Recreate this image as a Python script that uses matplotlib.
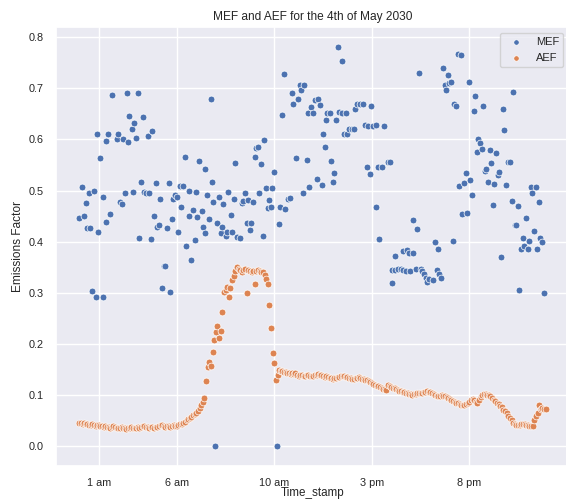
import matplotlib
matplotlib.use("Agg")
import matplotlib.pyplot as plt
import numpy as np
import seaborn as sns

# AEF: one reading every 5 minutes, 00:00 -> 23:55 (one row per hour)
aef_values = [
    0.045, 0.046, 0.044, 0.045, 0.043, 0.044, 0.042, 0.041, 0.043, 0.041, 0.040, 0.042,
    0.041, 0.039, 0.040, 0.038, 0.039, 0.037, 0.038, 0.036, 0.037, 0.039, 0.038, 0.036,
    0.035, 0.036, 0.037, 0.036, 0.035, 0.034, 0.036, 0.035, 0.037, 0.036, 0.035, 0.036,
    0.037, 0.036, 0.038, 0.040, 0.039, 0.038, 0.037, 0.036, 0.038, 0.037, 0.036, 0.037,
    0.038, 0.040, 0.042, 0.041, 0.039, 0.038, 0.040, 0.039, 0.038, 0.040, 0.041, 0.039,
    0.040, 0.042, 0.043, 0.044, 0.046, 0.047, 0.050, 0.053, 0.055, 0.057, 0.060, 0.062,
    0.065, 0.068, 0.075, 0.080, 0.087, 0.094, 0.127, 0.155, 0.165, 0.157, 0.185, 0.208,
    0.223, 0.234, 0.212, 0.225, 0.263, 0.301, 0.306, 0.312, 0.292, 0.310, 0.325, 0.333,
    0.343, 0.350, 0.346, 0.345, 0.340, 0.344, 0.347, 0.300, 0.345, 0.342, 0.340, 0.343,
    0.317, 0.342, 0.345, 0.343, 0.341, 0.340, 0.335, 0.326, 0.317, 0.276, 0.231, 0.183,
    0.162, 0.129, 0.140, 0.149, 0.147, 0.146, 0.144, 0.145, 0.143, 0.142, 0.141, 0.142,
    0.141, 0.142, 0.139, 0.138, 0.140, 0.139, 0.137, 0.138, 0.139, 0.140, 0.138, 0.137,
    0.137, 0.139, 0.140, 0.141, 0.139, 0.140, 0.138, 0.136, 0.137, 0.135, 0.134, 0.133,
    0.132, 0.133, 0.134, 0.135, 0.136, 0.137, 0.138, 0.137, 0.136, 0.135, 0.134, 0.133,
    0.132, 0.131, 0.133, 0.134, 0.135, 0.134, 0.132, 0.131, 0.130, 0.129, 0.128, 0.126,
    0.124, 0.122, 0.120, 0.118, 0.117, 0.115, 0.113, 0.112, 0.111, 0.110, 0.119, 0.117,
    0.115, 0.113, 0.114, 0.112, 0.110, 0.108, 0.107, 0.106, 0.105, 0.104, 0.103, 0.102,
    0.101, 0.100, 0.101, 0.102, 0.103, 0.104, 0.103, 0.104, 0.105, 0.106, 0.107, 0.106,
    0.105, 0.104, 0.102, 0.100, 0.098, 0.097, 0.098, 0.099, 0.098, 0.097, 0.096, 0.094,
    0.092, 0.091, 0.089, 0.087, 0.085, 0.084, 0.082, 0.080, 0.081, 0.080, 0.083, 0.085,
    0.087, 0.090, 0.092, 0.090, 0.087, 0.085, 0.090, 0.096, 0.100, 0.102, 0.101, 0.100,
    0.099, 0.097, 0.094, 0.091, 0.088, 0.085, 0.082, 0.079, 0.076, 0.071, 0.068, 0.064,
    0.059, 0.055, 0.050, 0.046, 0.044, 0.042, 0.041, 0.042, 0.043, 0.044, 0.043, 0.042,
    0.041, 0.040, 0.039, 0.040, 0.051, 0.058, 0.065, 0.080, 0.072, 0.074, 0.073, 0.072,
]
aef_hours = np.arange(len(aef_values)) / 12  # 5-minute steps

# MEF: readings taken off the scatter (hour of day, value)
mef_hours = [
    0.00, 0.14, 0.25, 0.35, 0.40, 0.52, 0.55, 0.67, 0.76, 0.83, 0.93, 0.98,
    1.07, 1.19, 1.24, 1.36, 1.39, 1.49, 1.58, 1.67, 1.92, 2.00, 2.09, 2.18,
    2.26, 2.33, 2.44, 2.49, 2.57, 2.69, 2.74, 2.81, 2.90, 3.00, 3.08, 3.15,
    3.26, 3.32, 3.43, 3.51, 3.58, 3.67, 3.72, 3.84, 3.94, 3.97, 4.09, 4.14,
    4.25, 4.35, 4.40, 4.50, 4.60, 4.65, 4.76, 4.79, 4.91, 5.03, 5.07, 5.17,
    5.24, 5.34, 5.43, 5.48, 5.60, 5.65, 5.75, 5.85, 5.92, 5.99, 6.06, 6.16,
    6.28, 6.33, 6.42, 6.45, 6.57, 6.67, 6.74, 6.83, 6.88, 6.98, 7.08, 7.15,
    7.26, 7.34, 7.39, 7.51, 7.58, 7.63,
    7.77, 7.84, 7.92, 7.97, 8.08, 8.23, 8.33, 8.38, 8.49, 8.59, 8.67, 8.76,
    8.79, 8.90, 9.02, 9.07, 9.18, 9.22, 9.32, 9.41, 9.48, 9.58, 9.67, 9.73,
    9.84, 9.89, 9.99, 10.14, 10.26, 10.30, 10.40, 10.52, 10.57, 10.72, 10.83, 10.93,
    10.98, 11.13, 11.24, 11.32, 11.39, 11.49, 11.54, 11.67, 11.75, 11.80, 11.90, 12.00,
    12.08, 12.18, 12.23, 12.33, 12.44, 12.49, 12.59, 12.64, 12.72, 12.86, 12.90, 13.00,
    13.07, 13.15, 13.26, 13.31, 13.46, 13.48, 13.55, 13.68, 13.72, 13.85, 13.97, 14.11,
    14.13, 14.26, 14.37, 14.54, 14.64, 14.74, 14.83, 14.91, 14.98, 15.07, 15.19, 15.22,
    15.34, 15.39,
    15.51, 15.63, 15.84, 15.94, 16.01, 16.06, 16.19, 16.20, 16.36, 16.49, 16.59, 16.62,
    16.74, 16.83, 16.90, 16.98, 17.10, 17.13, 17.26, 17.31, 17.41, 17.51, 17.58, 17.70,
    17.77, 17.82, 17.95, 18.13, 18.25, 18.33, 18.40, 18.47, 18.55, 18.64, 18.76, 18.81,
    18.91, 18.98, 19.07, 19.17, 19.22, 19.32, 19.41, 19.48, 19.58, 19.63, 19.73, 19.85,
    19.90, 19.97, 20.04, 20.16, 20.25, 20.30, 20.41, 20.45, 20.55, 20.67, 20.72, 20.83,
    20.88, 20.98, 21.07, 21.13, 21.24, 21.29, 21.39, 21.49, 21.54, 21.65, 21.75, 21.80,
    21.90, 21.99, 22.09, 22.18, 22.23, 22.33, 22.40, 22.49, 22.57, 22.64, 22.74, 22.83,
    22.90, 23.00, 23.07, 23.16, 23.22, 23.31, 23.43, 23.46, 23.58, 23.63, 23.73, 23.85,
]
mef_values = [
    0.446, 0.506, 0.451, 0.475, 0.426, 0.495, 0.427, 0.303, 0.500, 0.291, 0.611, 0.419,
    0.564, 0.487, 0.291, 0.597, 0.439, 0.611, 0.455, 0.687, 0.601, 0.611, 0.477, 0.473,
    0.601, 0.495, 0.690, 0.595, 0.646, 0.621, 0.498, 0.632, 0.603, 0.690, 0.408, 0.517,
    0.643, 0.498, 0.495, 0.607, 0.495, 0.406, 0.617, 0.451, 0.514, 0.428, 0.432, 0.483,
    0.309, 0.353, 0.353, 0.426, 0.514, 0.301, 0.444, 0.483, 0.491, 0.487, 0.419, 0.509,
    0.468, 0.509, 0.566, 0.392, 0.451, 0.500, 0.364, 0.461, 0.404, 0.498, 0.449, 0.558,
    0.459, 0.428, 0.543, 0.416, 0.491, 0.444, 0.680, 0.517, 0.477, 0.000, 0.437, 0.487,
    0.416, 0.428, 0.473, 0.412, 0.419, 0.498,
    0.453, 0.419, 0.483, 0.554, 0.410, 0.408, 0.475, 0.479, 0.495, 0.436, 0.481, 0.423,
    0.437, 0.477, 0.566, 0.584, 0.586, 0.496, 0.552, 0.412, 0.599, 0.505, 0.465, 0.481,
    0.467, 0.505, 0.536, 0.000, 0.434, 0.467, 0.647, 0.728, 0.463, 0.483, 0.485, 0.691,
    0.669, 0.564, 0.680, 0.706, 0.696, 0.495, 0.706, 0.560, 0.651, 0.507, 0.663, 0.651,
    0.678, 0.523, 0.680, 0.667, 0.511, 0.611, 0.586, 0.639, 0.651, 0.651, 0.558, 0.517,
    0.535, 0.639, 0.781, 0.653, 0.651, 0.754, 0.611, 0.651, 0.611, 0.621, 0.621, 0.621,
    0.660, 0.669, 0.669, 0.669, 0.629, 0.547, 0.627, 0.532, 0.665, 0.627, 0.629, 0.467,
    0.547, 0.406,
    0.547, 0.627, 0.556, 0.556, 0.319, 0.344, 0.344, 0.372, 0.346, 0.346, 0.381, 0.344,
    0.343, 0.384, 0.378, 0.343, 0.378, 0.442, 0.347, 0.424, 0.731, 0.347, 0.343, 0.336,
    0.328, 0.321, 0.326, 0.325, 0.399, 0.344, 0.386, 0.336, 0.328, 0.740, 0.707, 0.697,
    0.727, 0.710, 0.712, 0.401, 0.669, 0.665, 0.768, 0.509, 0.766, 0.455, 0.515, 0.534,
    0.457, 0.712, 0.521, 0.491, 0.656, 0.685, 0.576, 0.601, 0.594, 0.582, 0.665, 0.539,
    0.543, 0.517, 0.580, 0.554, 0.472, 0.513, 0.574, 0.530, 0.537, 0.369, 0.659, 0.618,
    0.511, 0.556, 0.556, 0.479, 0.693, 0.432, 0.432, 0.470, 0.305, 0.386, 0.408, 0.392,
    0.446, 0.386, 0.401, 0.507, 0.495, 0.420, 0.507, 0.386, 0.477, 0.408, 0.399, 0.299,
]

tick_hours = [1, 5, 10, 15, 20]
tick_labels = ["1 am", "6 am", "10 am", "3 pm", "8 pm"]

sns.set_theme(style="darkgrid")
plt.rcParams["font.family"] = ["Liberation Sans", "DejaVu Sans"]

fig = plt.figure(figsize=(5.66, 5.0), dpi=100)
ax = fig.add_axes([56 / 566, 34 / 500, 513 / 566, 439 / 500])

sns.scatterplot(x=mef_hours, y=mef_values, ax=ax, s=24, linewidth=0.5,
                color=sns.color_palette()[0], label="MEF")
sns.scatterplot(x=aef_hours, y=aef_values, ax=ax, s=24, linewidth=0.5,
                color=sns.color_palette()[1], label="AEF")

ax.set_xticks(tick_hours)
ax.set_xticklabels(tick_labels)
ax.tick_params(labelsize=7.8, pad=3)
ax.set_title("MEF and AEF for the 4th of May 2030", fontsize=8.6, pad=5)
ax.set_xlabel("Time_stamp", fontsize=8.4, labelpad=-1)
ax.set_ylabel("Emissions Factor", fontsize=8.6, labelpad=3)
ax.legend(loc="upper right", fontsize=8, markerscale=0.8)

fig.savefig("out.png", dpi=100)
